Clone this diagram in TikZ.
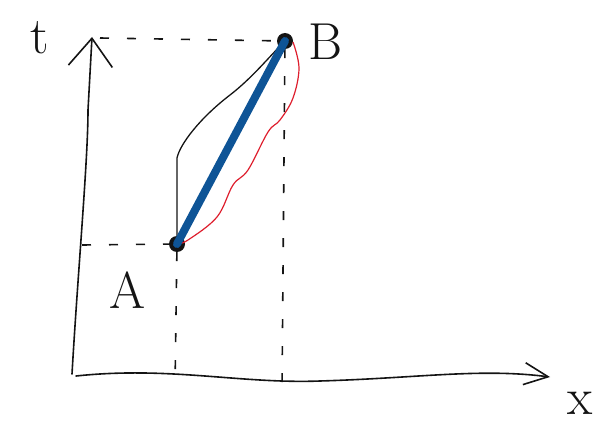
\documentclass[tikz,border=0pt]{standalone}
\usepackage{tikz}
\usetikzlibrary{calc,arrows.meta,positioning}
\definecolor{pathBlue}{RGB}{14,84,150}
\definecolor{pathRed}{RGB}{222,30,45}
\definecolor{inkBlack}{RGB}{20,20,20}

\tikzset{
    ink/.style={inkBlack, line width=1.6pt, line cap=round, line join=round},
    guide/.style={inkBlack, line width=1.6pt, dash pattern=on 9pt off 18pt},
    dot/.style={circle, fill=inkBlack, inner sep=0pt, minimum size=16pt},
    letter/.style={inkBlack, font=\fontsize{52}{52}\selectfont, inner sep=0pt}
}

\begin{document}
\begin{tikzpicture}[x=1pt,y=-1pt]
\useasboundingbox (0,0) rectangle (594,425);

% =========================
% 1. axes
% =========================
\coordinate (origin) at (72,374);
\coordinate (tTop) at (92,37);
\coordinate (xStart) at (76,376);
\coordinate (xEnd) at (550,377);

\draw[ink, -{Straight Barb[length=28pt,width=44pt,line width=1.6pt]}]
    (origin) .. controls (78,270) and (88,160) .. (88,110) -- (tTop);
\draw[ink, -{Straight Barb[length=24pt,width=22pt,line width=1.6pt]}]
    (xStart) .. controls (170,366) and (240,384) .. (320,381)
    .. controls (420,378) and (480,368) .. (xEnd);

\node[letter] (tLabel) at (40,38) {t};
\node[letter] (xLabel) at (580,403) {x};

% =========================
% 2. events
% =========================
\node[dot] (A) at (177,244) {};
\node[dot] (B) at (285,41) {};

\node[letter] (labelA) at (128,290) {A};
\node[letter] (labelB) at (325,42) {B};

% projections onto the axes
\coordinate (tickA) at (82,245);
\coordinate (tickB) at (100,38);
\coordinate (footA) at (175,387);
\coordinate (footB) at (282,388);

\draw[guide] (tickA) -- (A);
\draw[guide] (tickB) -- (B);
\draw[guide] (A) -- (footA);
\draw[guide] (B) -- (footB);

% =========================
% 3. paths from A to B
% =========================
% black detour: straight up first, then across
\draw[ink, line width=1.3pt]
    (A.center) -- (177,158)
    .. controls (180,144) and (200,118) .. (230,95)
    .. controls (252,78) and (268,58) .. (B.center);

% red path bulging to the right
\draw[pathRed, line width=1.2pt] plot[smooth, tension=0.6] coordinates {
    (A.center) (188,240) (217,217) (233,185) (248,170)
    (268,132) (280,120) (293,98) (299,68) (293,42)};

% straight worldline
\draw[pathBlue, line width=8pt, line cap=round] (A.center) -- (B.center);

\end{tikzpicture}
\end{document}
